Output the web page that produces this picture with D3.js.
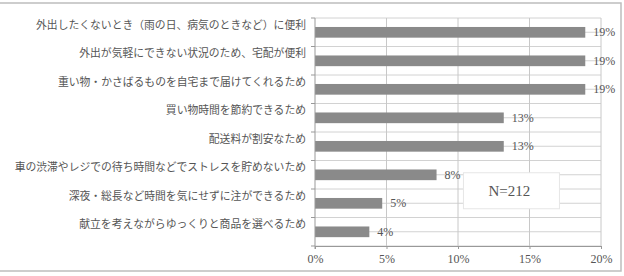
<!DOCTYPE html>
<html>
<head>
<meta charset="utf-8">
<script src="https://cdn.jsdelivr.net/npm/d3@7"></script>
<style>
    body { margin: 0; background: #fff; }
    #chart { width: 624px; height: 276px; }
    text { font-family: "Liberation Serif", "Noto Sans CJK JP", serif; fill: #555; }
</style>
</head>
<body>
<div id="chart"></div>
<script>
// reasons (top to bottom) and share of respondents
let categories = [
    "外出したくないとき（雨の日、病気のときなど）に便利",
    "外出が気軽にできない状況のため、宅配が便利",
    "重い物・かさばるものを自宅まで届けてくれるため",
    "買い物時間を節約できるため",
    "配送料が割安なため",
    "車の渋滞やレジでの待ち時間などでストレスを貯めないため",
    "深夜・総長など時間を気にせずに注ができるため",
    "献立を考えながらゆっくりと商品を選べるため"
];
let values = [0.189, 0.189, 0.189, 0.132, 0.132, 0.085, 0.047, 0.038];
let valueLabels = ["19%", "19%", "19%", "13%", "13%", "8%", "5%", "4%"];
let xTicks = [0, 0.05, 0.10, 0.15, 0.20];
let sampleNote = "N=212";


class BarVis {

    constructor(parentElement){
        this.parentElement = parentElement;
        this.data = categories.map((c, i) => ({name: c, value: values[i], label: valueLabels[i]}));
        this.initVis();
    }

    initVis(){
        let vis = this;

        vis.margin = {top: 18, right: 23, bottom: 30, left: 315};
        vis.width = 624 - vis.margin.left - vis.margin.right;
        vis.height = 276 - vis.margin.top - vis.margin.bottom;

        vis.root = d3.select("#" + vis.parentElement).append("svg")
            .attr("width", 624)
            .attr("height", 276);

        // outer frame (left side runs off the picture)
        vis.root.append("rect")
            .attr("x", -5).attr("y", 3)
            .attr("width", 626).attr("height", 268)
            .attr("fill", "none")
            .attr("stroke", "#bdbdbd")
            .attr("stroke-width", 1.5);

        vis.svg = vis.root.append("g")
            .attr("transform", `translate(${vis.margin.left}, ${vis.margin.top})`);

        vis.x = d3.scaleLinear()
            .domain([0, 0.2])
            .range([0, vis.width]);

        vis.y = d3.scaleBand()
            .domain(categories)
            .range([0, vis.height]);

        this.updateVis();
    }

    updateVis(){
        let vis = this;
        let bw = vis.y.bandwidth();

        // horizontal gridlines every half band
        let gridY = [];
        categories.forEach(c => { gridY.push(vis.y(c)); gridY.push(vis.y(c) + bw / 2); });
        gridY.push(vis.height);

        vis.svg.selectAll(".hgrid")
            .data(gridY)
            .join("line")
            .attr("class", "hgrid")
            .attr("x1", 0).attr("x2", vis.width)
            .attr("y1", d => d).attr("y2", d => d)
            .attr("stroke", "#d2d2d2")
            .attr("stroke-width", 1);

        vis.svg.selectAll(".vgrid")
            .data(xTicks.slice(1))
            .join("line")
            .attr("class", "vgrid")
            .attr("x1", d => vis.x(d)).attr("x2", d => vis.x(d))
            .attr("y1", 0).attr("y2", vis.height)
            .attr("stroke", "#c8c8c8")
            .attr("stroke-width", 1);

        // bars
        vis.svg.selectAll(".bar")
            .data(vis.data)
            .join("rect")
            .attr("class", "bar")
            .attr("x", 0)
            .attr("y", d => vis.y(d.name) + bw * 0.315)
            .attr("width", d => vis.x(d.value))
            .attr("height", bw * 0.375)
            .attr("fill", "#8a8a8a");

        // value labels
        vis.svg.selectAll(".val")
            .data(vis.data)
            .join("text")
            .attr("class", "val")
            .attr("x", d => vis.x(d.value) + 8)
            .attr("y", d => vis.y(d.name) + bw / 2)
            .attr("dy", "0.35em")
            .attr("font-size", 12)
            .text(d => d.label);

        // y axis
        vis.svg.append("line")
            .attr("x1", 0).attr("x2", 0)
            .attr("y1", 0).attr("y2", vis.height + 3)
            .attr("stroke", "#999");

        vis.svg.selectAll(".ytick")
            .data(categories.map(c => vis.y(c)).concat([vis.height]))
            .join("line")
            .attr("class", "ytick")
            .attr("x1", -4).attr("x2", 0)
            .attr("y1", d => d).attr("y2", d => d)
            .attr("stroke", "#999");

        vis.svg.selectAll(".cat")
            .data(categories)
            .join("text")
            .attr("class", "cat")
            .attr("x", -9)
            .attr("y", d => vis.y(d) + bw / 2 - 7.5)
            .attr("dy", "0.35em")
            .attr("text-anchor", "end")
            .attr("font-size", 10.8)
            .text(d => d);

        // x axis
        vis.xAxis = d3.axisBottom(vis.x)
            .tickValues(xTicks)
            .tickSize(3)
            .tickFormat(d3.format(".0%"));

        vis.xAxisGroup = vis.svg.append("g")
            .attr("class", "x-axis")
            .attr("transform", `translate(0, ${vis.height})`)
            .call(vis.xAxis);

        vis.xAxisGroup.attr("font-family", null).attr("font-size", null);
        vis.xAxisGroup.select(".domain").attr("stroke", "#999");
        vis.xAxisGroup.selectAll(".tick line").attr("stroke", "#999");
        vis.xAxisGroup.selectAll(".tick text")
            .attr("y", 8)
            .attr("font-size", 12)
            .attr("fill", "#555");

        // sample size box
        let note = vis.svg.append("g")
            .attr("transform", `translate(${vis.x(0.1038)}, ${vis.y(categories[5]) + bw * 0.43})`);
        note.append("rect")
            .attr("width", 96).attr("height", 36)
            .attr("fill", "#fff")
            .attr("stroke", "#e6e6e6");
        note.append("text")
            .attr("x", 46).attr("y", 18)
            .attr("dy", "0.35em")
            .attr("text-anchor", "middle")
            .attr("font-size", 15)
            .text(sampleNote);
    }
}

new BarVis("chart");
</script>
</body>
</html>
